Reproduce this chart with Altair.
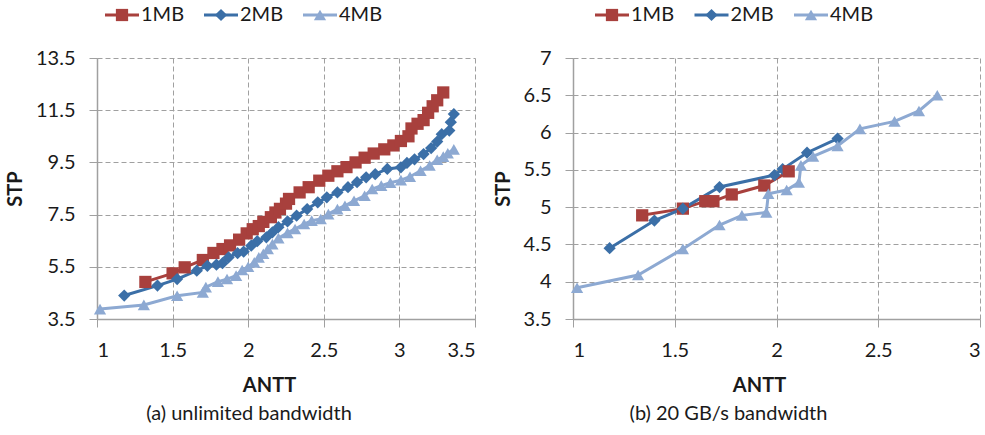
import altair as alt
import pandas as pd

SERIES = ["1MB", "2MB", "4MB"]
COLORS = ["#A8403D", "#3B6FA7", "#8DA9D2"]
SHAPES = ["square", "diamond", "triangle-up"]
FONT = "Lato"
TXT = "#1a1a1a"

# (a) unlimited bandwidth
a_1mb_x = [1.32, 1.50, 1.58, 1.70, 1.77, 1.83, 1.88, 1.94, 1.99, 2.03, 2.07, 2.10, 2.15, 2.18, 2.21,
           2.25, 2.27, 2.34, 2.40, 2.47, 2.53, 2.59, 2.65, 2.71, 2.77, 2.83, 2.90, 2.96, 3.01, 3.06,
           3.08, 3.12, 3.16, 3.19, 3.22, 3.25, 3.29]
a_1mb_y = [4.92, 5.25, 5.48, 5.76, 6.03, 6.18, 6.32, 6.54, 6.78, 6.94, 7.06, 7.22, 7.40, 7.58, 7.72,
           7.92, 8.10, 8.35, 8.55, 8.80, 8.99, 9.16, 9.32, 9.50, 9.68, 9.84, 10.00, 10.15, 10.32, 10.50,
           10.80, 10.98, 11.12, 11.40, 11.65, 11.88, 12.18]
a_2mb_x = [1.18, 1.40, 1.53, 1.66, 1.73, 1.79, 1.83, 1.87, 1.93, 1.97, 2.02, 2.06, 2.12, 2.16, 2.20,
           2.26, 2.32, 2.39, 2.46, 2.52, 2.59, 2.66, 2.72, 2.78, 2.84, 2.92, 3.01, 3.05, 3.10, 3.16,
           3.21, 3.25, 3.28, 3.33, 3.34, 3.36]
a_2mb_y = [4.40, 4.78, 5.03, 5.35, 5.54, 5.58, 5.64, 5.86, 6.02, 6.08, 6.31, 6.48, 6.63, 6.82, 7.02,
           7.24, 7.46, 7.71, 7.97, 8.16, 8.35, 8.55, 8.74, 8.93, 9.05, 9.25, 9.31, 9.48, 9.62, 9.82,
           10.05, 10.30, 10.58, 10.72, 11.04, 11.35]
a_4mb_x = [1.02, 1.31, 1.53, 1.70, 1.72, 1.80, 1.86, 1.92, 1.96, 2.00, 2.04, 2.07, 2.10, 2.13, 2.16,
           2.20, 2.26, 2.31, 2.37, 2.42, 2.48, 2.53, 2.59, 2.64, 2.70, 2.77, 2.82, 2.88, 2.94, 3.01,
           3.07, 3.14, 3.20, 3.25, 3.29, 3.32, 3.36]
a_4mb_y = [3.88, 4.04, 4.39, 4.52, 4.72, 4.93, 5.03, 5.16, 5.38, 5.50, 5.67, 5.86, 6.00, 6.18, 6.37,
           6.60, 6.80, 6.95, 7.14, 7.27, 7.33, 7.52, 7.71, 7.84, 8.03, 8.22, 8.48, 8.61, 8.72, 8.82,
           8.95, 9.18, 9.38, 9.60, 9.72, 9.85, 10.00]

# (b) 20 GB/s bandwidth
b_1mb_x = [1.34, 1.54, 1.65, 1.69, 1.78, 1.94, 2.06]
b_1mb_y = [4.89, 4.98, 5.08, 5.08, 5.17, 5.29, 5.48]
b_2mb_x = [1.18, 1.40, 1.54, 1.72, 1.99, 2.03, 2.15, 2.30]
b_2mb_y = [4.45, 4.82, 4.98, 5.27, 5.43, 5.51, 5.73, 5.92]
b_4mb_x = [1.02, 1.32, 1.54, 1.72, 1.83, 1.95, 1.96, 2.05, 2.11, 2.12, 2.18, 2.30, 2.41, 2.58, 2.70, 2.79]
b_4mb_y = [3.92, 4.09, 4.44, 4.76, 4.89, 4.93, 5.18, 5.23, 5.33, 5.56, 5.68, 5.82, 6.05, 6.15, 6.29, 6.50]

a_x_ticks = [1, 1.5, 2, 2.5, 3, 3.5]
a_y_ticks = [3.5, 5.5, 7.5, 9.5, 11.5, 13.5]
b_x_ticks = [1, 1.5, 2, 2.5, 3]
b_y_ticks = [3.5, 4, 4.5, 5, 5.5, 6, 6.5, 7]


def make_df(xs, ys):
    rows = []
    for s, x, y in zip(SERIES, xs, ys):
        for i, (xv, yv) in enumerate(zip(x, y)):
            rows.append({"series": s, "antt": xv, "stp": yv, "idx": i})
    return pd.DataFrame(rows)


df_a = make_df([a_1mb_x, a_2mb_x, a_4mb_x], [a_1mb_y, a_2mb_y, a_4mb_y])
df_b = make_df([b_1mb_x, b_2mb_x, b_4mb_x], [b_1mb_y, b_2mb_y, b_4mb_y])

LABEL_EXPR = "'' + datum.value"


def panel(df, xticks, yticks, width, height, leg_range, title_text, title_dx, xtitle_x):
    color = alt.Color("series:N", scale=alt.Scale(domain=SERIES, range=COLORS), legend=None)
    shape = alt.Shape("series:N", scale=alt.Scale(domain=SERIES, range=SHAPES), legend=None)
    x = alt.X("antt:Q",
              scale=alt.Scale(domain=[xticks[0], xticks[-1]], nice=False, zero=False),
              axis=alt.Axis(values=xticks, labelExpr=LABEL_EXPR, title="ANTT", titleX=xtitle_x,
                            titlePadding=15, labelPadding=13))
    y = alt.Y("stp:Q",
              scale=alt.Scale(domain=[yticks[0], yticks[-1]], nice=False, zero=False),
              axis=alt.Axis(values=yticks, labelExpr=LABEL_EXPR, title="STP", titlePadding=10,
                            labelPadding=14))
    base = alt.Chart(df).encode(x=x, y=y, color=color, order=alt.Order("idx:Q"))
    lines = base.mark_line(strokeWidth=3)
    pts = base.mark_point(filled=True, opacity=1, size=150, strokeWidth=0).encode(shape=shape)
    data_layer = alt.layer(lines, pts)

    leg_df = pd.DataFrame({"series": SERIES})
    lx = alt.X("series:N", scale=alt.Scale(type="point", domain=SERIES, range=leg_range, padding=0),
               axis=None)
    leg = alt.Chart(leg_df).encode(x=lx, y=alt.value(-43))
    leg_rule = leg.mark_rule(strokeWidth=3, xOffset=-17, x2Offset=17).encode(
        x2=alt.X2("series"), color=color)
    leg_pt = leg.mark_point(filled=True, opacity=1, size=150, strokeWidth=0).encode(
        color=color, shape=shape)
    leg_txt = leg.mark_text(align="left", baseline="middle", dx=19, fontSize=20, font=FONT,
                            color=TXT).encode(text="series:N")
    legend_layer = alt.layer(leg_rule, leg_pt, leg_txt)

    return alt.layer(data_layer, legend_layer).resolve_scale(x="independent").properties(
        width=width, height=height,
        title=alt.TitleParams(title_text, orient="bottom", anchor="middle", fontSize=20,
                              fontWeight="normal", font=FONT, color=TXT, dx=title_dx, offset=9))


left = panel(df_a, a_x_ticks, a_y_ticks, 378, 261, [25, 223], "(a) unlimited bandwidth", -37, 172)
right = panel(df_b, b_x_ticks, b_y_ticks, 407, 261, [39, 238], "(b) 20 GB/s bandwidth", -48, 186)

chart = alt.hconcat(left, right, spacing=17).properties(
    padding={"left": 5, "top": 5, "right": 0, "bottom": 5}
).configure_axis(
    labelFont=FONT, labelFontSize=20, labelColor=TXT,
    titleFont=FONT, titleFontSize=20, titleFontWeight="bold", titleColor=TXT,
    gridColor="#a0a0a0", gridDash=[5, 3], gridWidth=1,
    domainColor="#a0a0a0", domainWidth=1.5, tickColor="#a0a0a0", tickSize=8, tickWidth=1,
).configure_view(stroke=None)

chart.save("out.html", embed_options={"renderer": "svg", "actions": False})
